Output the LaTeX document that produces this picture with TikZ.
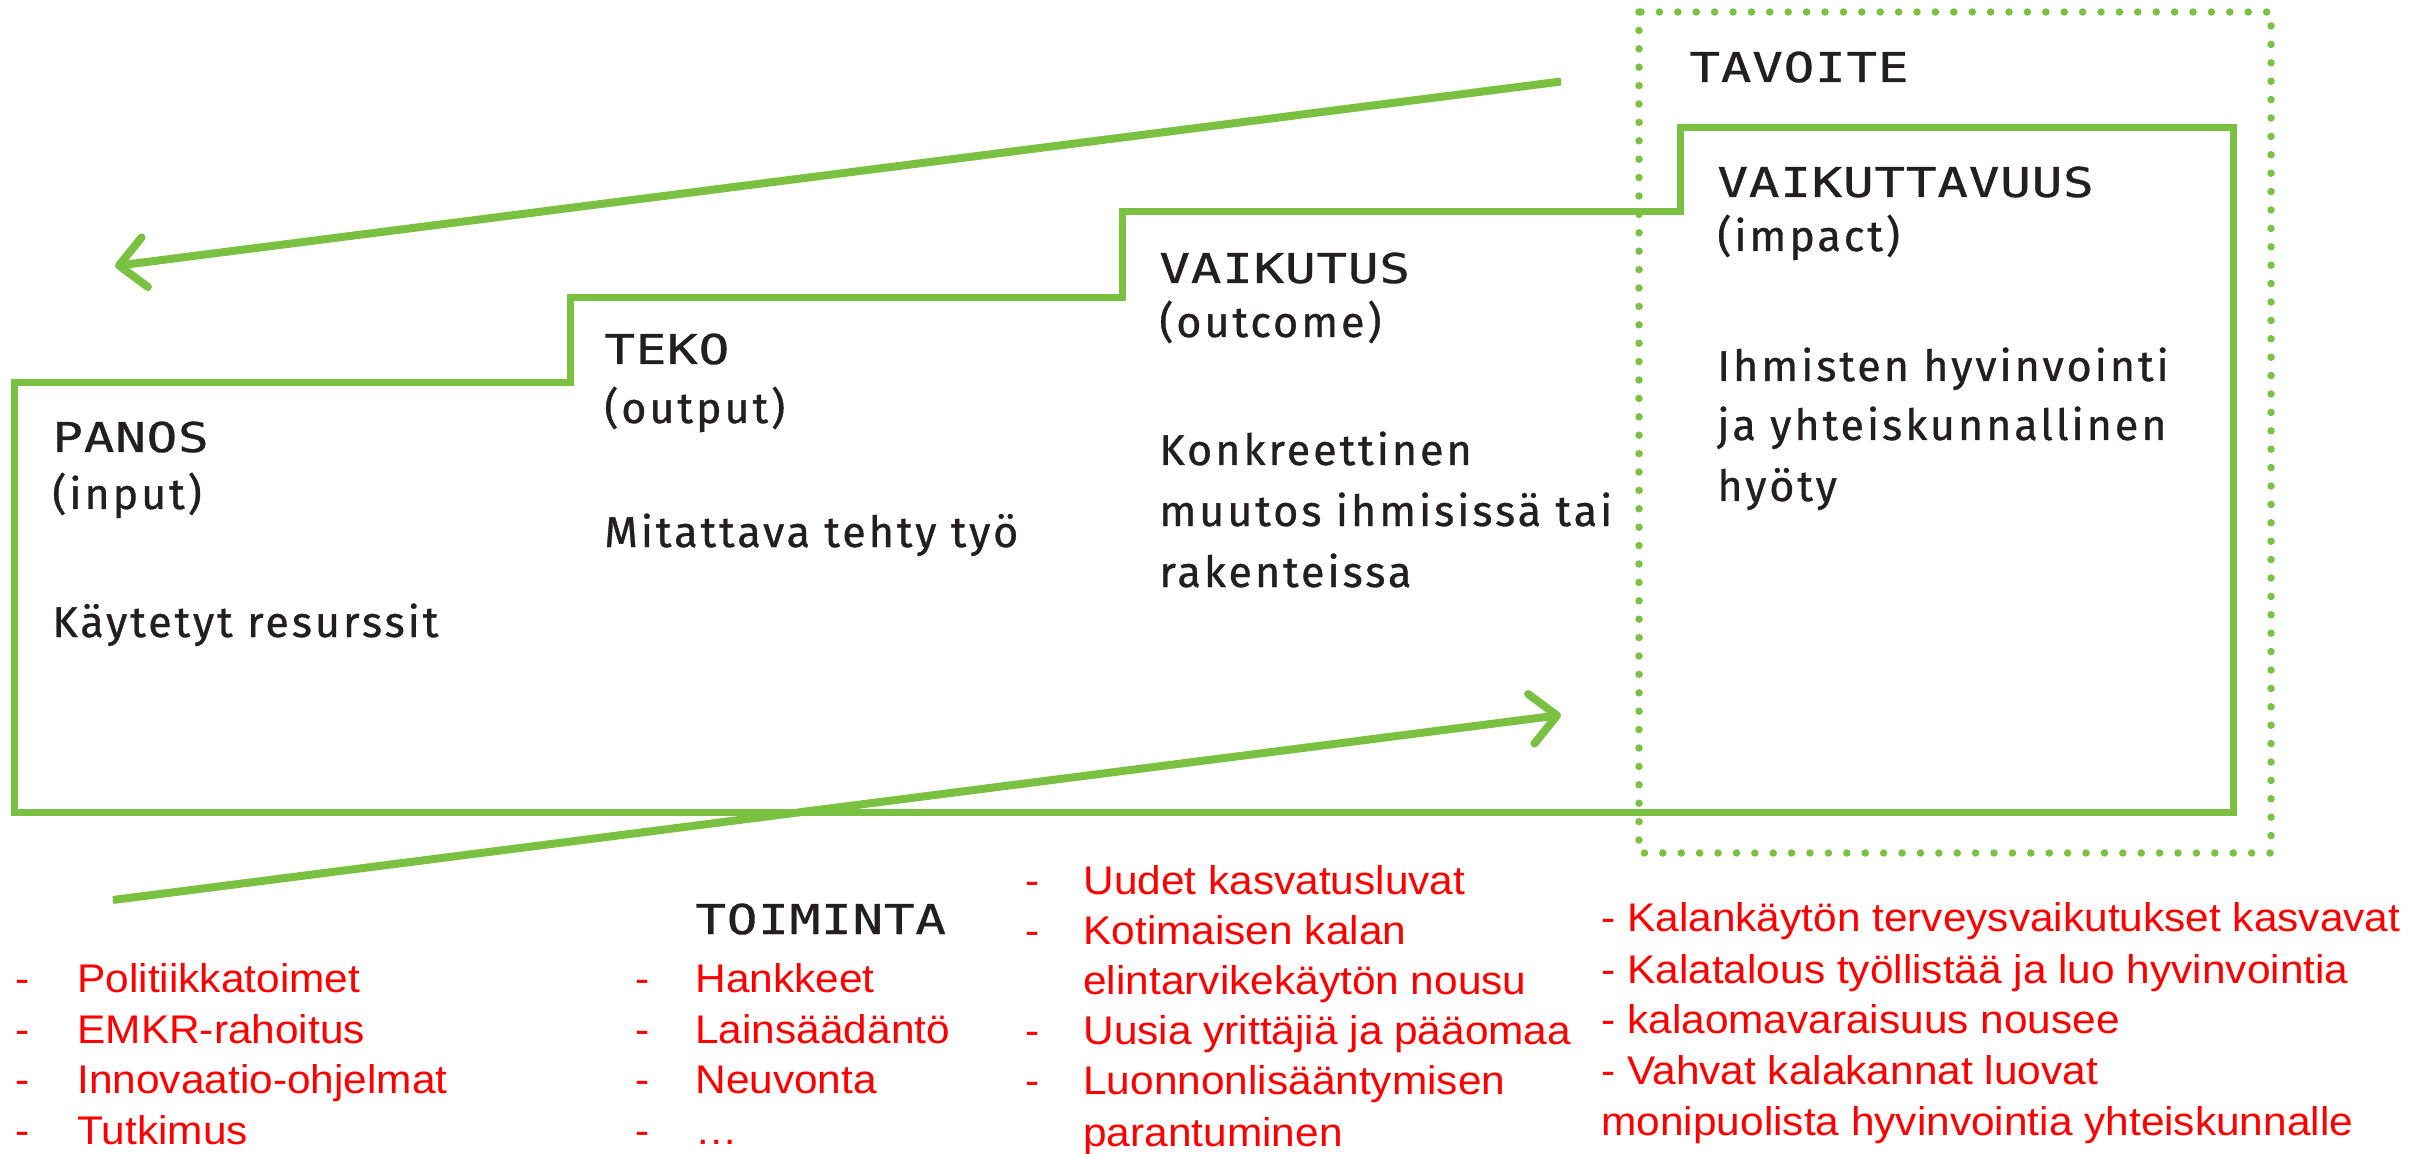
\documentclass[tikz,border=0pt]{standalone}
\usepackage{fontspec}
\usetikzlibrary{arrows.meta}
\newfontfamily\bodyfont[LetterSpace=7,FakeBold=0.8]{Fira Sans}
\newfontfamily\headfont[FakeStretch=1.24,LetterSpace=2,FakeBold=0.8]{DejaVu Sans Mono}
\newfontfamily\redfont[FakeStretch=1.06]{Liberation Sans}
\definecolor{tgreen}{RGB}{122,193,66}
\definecolor{ink}{RGB}{35,31,32}
\definecolor{tred}{RGB}{255,0,0}
\tikzset{
 stair/.style={draw=tgreen, line width=3.5pt, line join=miter},
 goalbox/.style={draw=tgreen, line width=3.75pt, dash pattern=on 0pt off 9.2pt, line cap=round},
 flow/.style={draw=tgreen, line width=4pt, -{Straight Barb[length=13pt,width=25pt,round]}},
 hd/.style={anchor=base west, inner sep=0pt, font=\headfont\fontsize{20.5}{24}\selectfont, text=ink},
 bd/.style={anchor=base west, inner sep=0pt, font=\bodyfont\fontsize{21.5}{26}\selectfont, text=ink},
 rd/.style={anchor=base west, inner sep=0pt, font=\redfont\fontsize{20}{24}\selectfont, text=tred},
}
\begin{document}
\begin{tikzpicture}[x=0.5pt,y=-0.5pt]
\useasboundingbox[fill=white] (0,0) rectangle (2413,1154);
% goal (dotted) box
\draw[goalbox] (1639,12) rectangle (2271,853);
% staircase
\draw[stair] (14,383) -- (570,383) -- (570,298) -- (1122,298) -- (1122,212)
  -- (1680,212) -- (1680,128) -- (2233,128) -- (2233,812) -- (14,812) -- cycle;
% arrows
\coordinate (a1s) at (1561,81.5);
\coordinate (a1e) at (115,266);
\coordinate (a2s) at (113,900);
\coordinate (a2e) at (1561,715);
\draw[flow] (a1s) -- (a1e);
\draw[flow] (a2s) -- (a2e);
% PANOS
\node[hd] (panos) at (52,452) {PANOS};
\node[bd] (input) at (52,509) {(input)};
\node[bd] (panosT) at (52,637) {Käytetyt resurssit};
% TEKO
\node[hd] (teko) at (604,364) {TEKO};
\node[bd] (output) at (604,423) {(output)};
\node[bd] (tekoT) at (604,547) {Mitattava tehty työ};
% VAIKUTUS
\node[hd] (vaik) at (1159,283) {VAIKUTUS};
\node[bd] (outcome) at (1159,337) {(outcome)};
\node[bd] (vaikT1) at (1159,465) {Konkreettinen};
\node[bd] (vaikT2) at (1159,526) {muutos ihmisissä tai};
\node[bd] (vaikT3) at (1159,587) {rakenteissa};
% TAVOITE / VAIKUTTAVUUS
\node[hd] (tavoite) at (1689,82) {TAVOITE};
\node[hd] (vv) at (1717,197) {VAIKUTTAVUUS};
\node[bd] (impact) at (1717,251) {(impact)};
\node[bd] (vvT1) at (1717,381) {Ihmisten hyvinvointi};
\node[bd] (vvT2) at (1717,440) {ja yhteiskunnallinen};
\node[bd] (vvT3) at (1717,501) {hyöty};
% TOIMINTA
\node[hd] (toim) at (695,934) {TOIMINTA};
% red lists
\node[rd] (d11) at (15,992) {-};  \node[rd] (l11) at (77,992) {Politiikkatoimet};
\node[rd] (d12) at (15,1043) {-}; \node[rd] (l12) at (77,1043) {EMKR-rahoitus};
\node[rd] (d13) at (15,1093) {-}; \node[rd] (l13) at (77,1093) {Innovaatio-ohjelmat};
\node[rd] (d14) at (15,1144) {-}; \node[rd] (l14) at (77,1144) {Tutkimus};
\node[rd] (d21) at (635,992) {-};  \node[rd] (l21) at (695,992) {Hankkeet};
\node[rd] (d22) at (635,1043) {-}; \node[rd] (l22) at (695,1043) {Lainsäädäntö};
\node[rd] (d23) at (635,1093) {-}; \node[rd] (l23) at (695,1093) {Neuvonta};
\node[rd] (d24) at (635,1144) {-}; \node[rd] (l24) at (695,1144) {…};
\node[rd] (d31) at (1025,894) {-};  \node[rd] (l31) at (1083,894) {Uudet kasvatusluvat};
\node[rd] (d32) at (1025,944) {-};  \node[rd] (l32) at (1083,944) {Kotimaisen kalan};
\node[rd] (l33) at (1083,994) {elintarvikekäytön nousu};
\node[rd] (d34) at (1025,1044) {-}; \node[rd] (l34) at (1083,1044) {Uusia yrittäjiä ja pääomaa};
\node[rd] (d35) at (1025,1094) {-}; \node[rd] (l35) at (1083,1094) {Luonnonlisääntymisen};
\node[rd] (l36) at (1083,1146) {parantuminen};
\node[rd] (l41) at (1601,931) {- Kalankäytön terveysvaikutukset kasvavat};
\node[rd] (l42) at (1601,983) {- Kalatalous työllistää ja luo hyvinvointia};
\node[rd] (l43) at (1601,1033) {- kalaomavaraisuus nousee};
\node[rd] (l44) at (1601,1084) {- Vahvat kalakannat luovat};
\node[rd] (l45) at (1601,1135) {monipuolista hyvinvointia yhteiskunnalle};
\end{tikzpicture}
\end{document}
